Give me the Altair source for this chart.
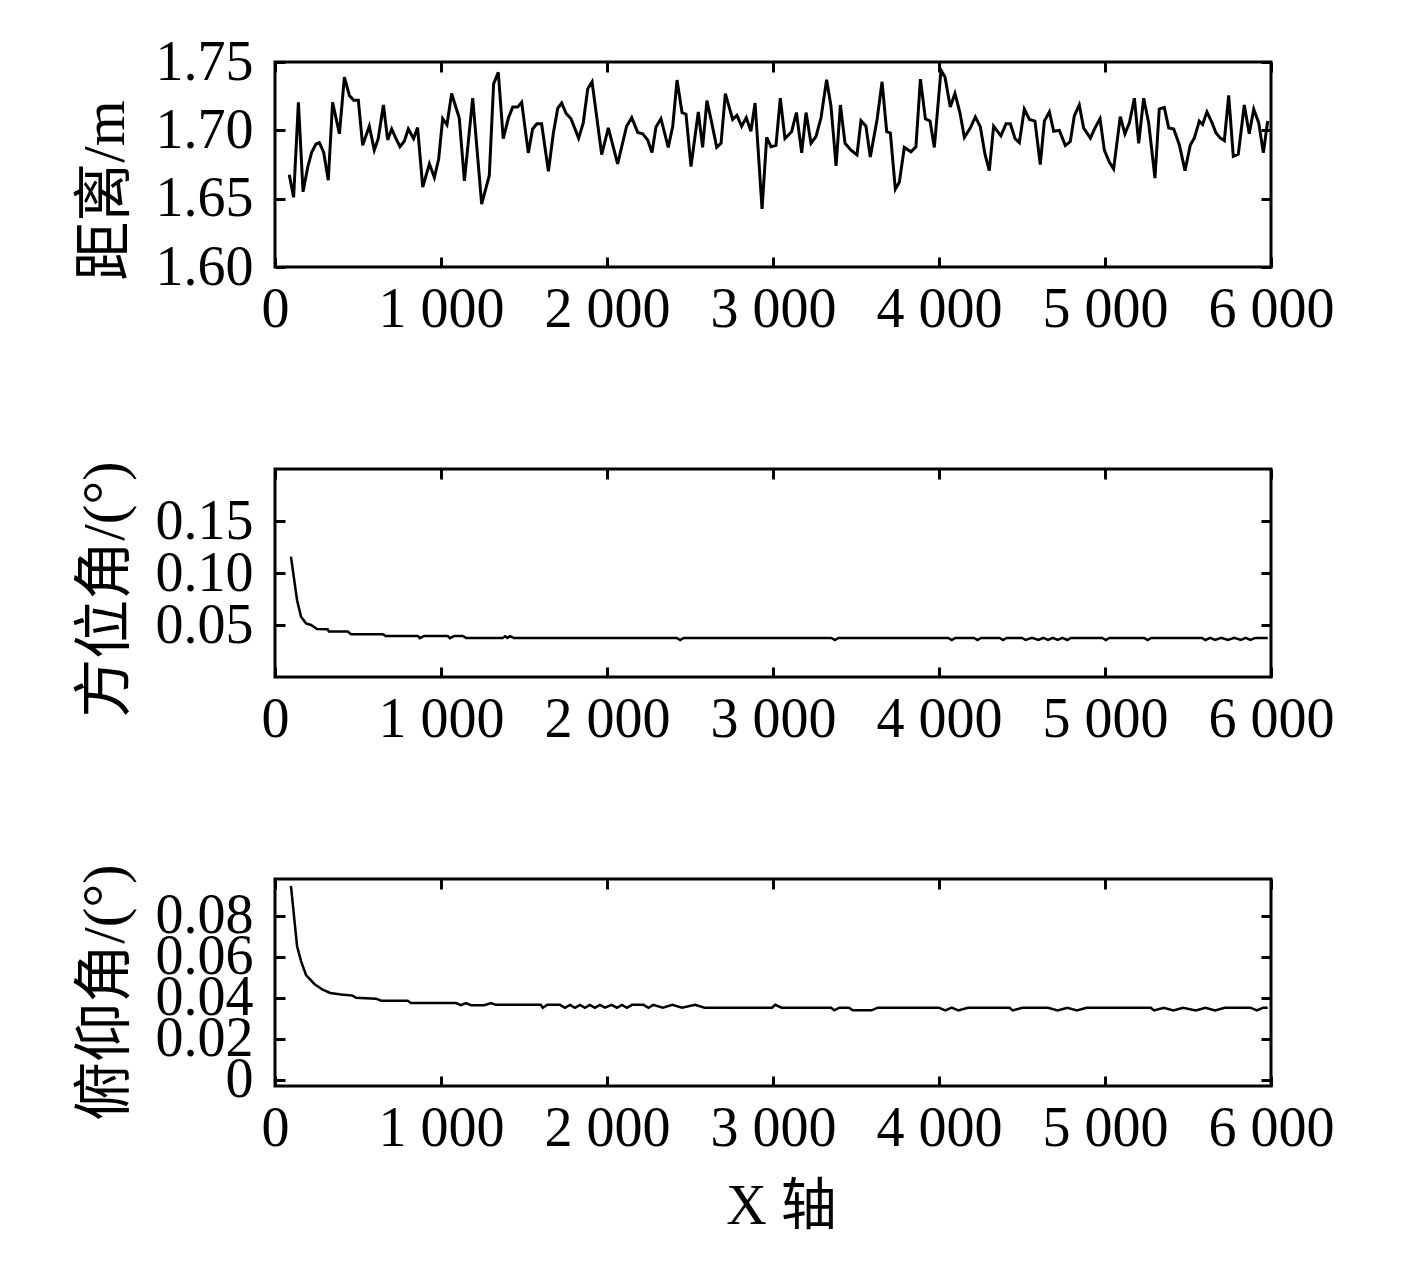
import altair as alt
import pandas as pd

# ---------------- data ----------------
x_ticks = [0, 1000, 2000, 3000, 4000, 5000, 6000]

dist_x = [86, 112, 141, 169, 197, 221, 247, 267, 293, 321, 347, 388, 418, 448, 474, 502, 528, 568, 598, 622,
          653, 679, 703, 729, 753, 779, 803, 835, 859, 890, 930, 960, 986, 1010, 1036, 1064, 1110, 1141, 1191, 1245,
          1291, 1317, 1345, 1375, 1406, 1432, 1462, 1486,
          1526, 1552, 1578, 1606, 1647, 1677, 1703, 1727, 1753, 1783, 1829, 1857, 1884, 1910, 1968, 2008, 2064, 2118,
          2149, 2185, 2215, 2245, 2271, 2295, 2325, 2369, 2396, 2422, 2452, 2476, 2506, 2550, 2576, 2602, 2631, 2661,
          2687, 2713, 2757, 2783, 2811, 2839, 2867, 2892, 2934, 2962, 2988,
          3018, 3044, 3072, 3112, 3141, 3173, 3199, 3229, 3259, 3289, 3323, 3349, 3380, 3406, 3434, 3470, 3506, 3530,
          3560, 3586, 3627, 3657, 3685, 3707, 3737, 3761, 3791, 3831, 3861, 3888, 3918, 3946, 3972, 4012, 4036, 4068,
          4096, 4126, 4153, 4189, 4219, 4249, 4277, 4303, 4329, 4373, 4404, 4430, 4458, 4484, 4514,
          4545, 4578, 4610, 4635, 4665, 4691, 4725, 4761, 4791, 4815, 4845, 4871, 4912, 4940, 4970, 4996, 5026, 5052,
          5092, 5120, 5147, 5177, 5203, 5233, 5263, 5301, 5327, 5357, 5384, 5414, 5448, 5482, 5514, 5538, 5568, 5588,
          5614, 5643, 5669, 5695, 5719, 5745, 5773, 5803, 5839, 5869, 5896, 5926, 5954, 5980]
dist_y = [1.6675, 1.651, 1.7205, 1.655, 1.673, 1.684, 1.690, 1.691, 1.684, 1.6635,
          1.7205, 1.6975, 1.739, 1.7255, 1.722, 1.722, 1.689, 1.703, 1.6855, 1.694,
          1.7185, 1.693, 1.701, 1.694, 1.688, 1.692, 1.701, 1.694, 1.702, 1.6585,
          1.6755, 1.6655, 1.679, 1.7085, 1.704, 1.727, 1.709, 1.663, 1.7235, 1.646,
          1.667, 1.734, 1.7425, 1.694, 1.709, 1.717, 1.717, 1.7205,
          1.6835, 1.701, 1.7048, 1.7048, 1.670, 1.698, 1.716, 1.720, 1.7125, 1.7085,
          1.6943, 1.7055, 1.7305, 1.7355, 1.6823, 1.7018, 1.6755, 1.703, 1.7093, 1.6985,
          1.6975, 1.693, 1.6838, 1.7025, 1.7085, 1.6875, 1.703, 1.7368, 1.713, 1.7118,
          1.6735, 1.7135, 1.6875, 1.7218, 1.7055, 1.6875, 1.6905, 1.7268, 1.708, 1.711,
          1.703, 1.7093, 1.6993, 1.720, 1.6425, 1.6948, 1.688,
          1.689, 1.7235, 1.694, 1.699, 1.713, 1.6835, 1.713, 1.6905, 1.6955, 1.709,
          1.737, 1.718, 1.674, 1.7185, 1.6905, 1.6855, 1.682, 1.707, 1.703, 1.6805,
          1.708, 1.7355, 1.699, 1.698, 1.657, 1.662, 1.6875, 1.6843, 1.688, 1.7375,
          1.7085, 1.7068, 1.6875, 1.744, 1.739, 1.717, 1.727, 1.713, 1.6948, 1.7018,
          1.7098, 1.7025, 1.6825, 1.6705, 1.703, 1.696, 1.7048, 1.7048, 1.694, 1.691,
          1.7155,
          1.708, 1.7068, 1.675, 1.7068, 1.7135, 1.6993, 1.700, 1.6888, 1.6918, 1.7105,
          1.7185, 1.7018, 1.6943, 1.7018, 1.7085, 1.6855, 1.6768, 1.6718, 1.710, 1.6975,
          1.7055, 1.7235, 1.6905, 1.7235, 1.7055, 1.665, 1.7155, 1.7168, 1.7018, 1.701,
          1.6893, 1.6705, 1.6893, 1.6943, 1.7068, 1.7043, 1.7135, 1.706, 1.698, 1.6943,
          1.6925, 1.7255, 1.681, 1.6825, 1.7185, 1.6975, 1.7155, 1.7055, 1.6835, 1.7068]

azi_x = [96, 133, 157, 187, 217, 253, 317, 325, 438, 458, 649, 667, 860, 873, 898, 1040, 1054, 1080, 1131, 1151,
         1372, 1386, 1400, 1416, 1438, 2420, 2441, 2462, 3352, 3373, 3394, 4056, 4077, 4098, 4211, 4232, 4253,
         4365, 4386, 4407, 4501, 4522, 4560, 4599, 4628, 4657, 4686, 4715, 4744, 4773, 4794, 4984, 5005, 5026,
         5236, 5257, 5278, 5584, 5605, 5634, 5663, 5700, 5740, 5779, 5818, 5847, 5876, 5905, 5980]
azi_y = [0.1157, 0.0738, 0.0580, 0.0516, 0.0500, 0.0462, 0.0459, 0.0437, 0.0437, 0.0411, 0.0411, 0.0395, 0.0395,
         0.0373, 0.0395, 0.0395, 0.0373, 0.0395, 0.0395, 0.0376,
         0.0376, 0.0392, 0.0376, 0.0392, 0.0376, 0.0376, 0.0356, 0.0376, 0.0376, 0.0356, 0.0376, 0.0376, 0.0356, 0.0376,
         0.0376, 0.0356, 0.0376, 0.0376, 0.0356, 0.0376, 0.0376, 0.0356, 0.0376, 0.0356, 0.0376, 0.0356, 0.0376,
         0.0356, 0.0376, 0.0356, 0.0376, 0.0376, 0.0356, 0.0376, 0.0376, 0.0356, 0.0376, 0.0376, 0.0356, 0.0376,
         0.0356, 0.0376, 0.0356, 0.0376, 0.0356, 0.0376, 0.0356, 0.0376, 0.0376]

pit_x = [96, 133, 157, 187, 237, 287, 333, 398, 468, 488, 608, 639, 799, 819, 1090, 1120, 1151, 1181, 1261, 1301,
         1331, 1601, 1613, 1640, 1717, 1747, 1777, 1807, 1837, 1867, 1897, 1927, 1957, 1988, 2027, 2060, 2090, 2120,
         2150, 2220, 2250, 2278, 2336, 2394, 2452, 2530, 2588, 2994, 3013, 3052, 3350, 3369, 3400, 3458, 3480, 3593,
         3632, 3999, 4038, 4077, 4116, 4174, 4425, 4444, 4502, 4657, 4715, 4773, 4831, 4889, 5276, 5296, 5354, 5412,
         5470, 5547, 5605, 5663, 5721, 5876, 5915, 5953, 5980]
pit_y = [0.0946, 0.0652, 0.0579, 0.0511, 0.0468, 0.0440, 0.0424, 0.0416, 0.0411, 0.0400, 0.0396, 0.0386, 0.0386,
         0.0375, 0.0375, 0.0364, 0.0375, 0.0364, 0.0364, 0.0375,
         0.0366, 0.0366, 0.0352, 0.0366, 0.0366, 0.0352, 0.0366, 0.0352, 0.0366, 0.0352, 0.0366, 0.0352, 0.0366, 0.0352,
         0.0366, 0.0352, 0.0366, 0.0352, 0.0366, 0.0366, 0.0352, 0.0366, 0.0352, 0.0366, 0.0352, 0.0366, 0.0352,
         0.0352, 0.0366, 0.0352, 0.0352, 0.0339, 0.0352, 0.0352, 0.0339, 0.0339, 0.0352, 0.0352, 0.0339, 0.0352,
         0.0339, 0.0352, 0.0352, 0.0339, 0.0352, 0.0352, 0.0339, 0.0352, 0.0339, 0.0352, 0.0352, 0.0339, 0.0352,
         0.0339, 0.0352, 0.0339, 0.0352, 0.0339, 0.0352, 0.0352, 0.0339, 0.0352, 0.0352]

# ---------------- styling ----------------
FONT = "Liberation Serif, Noto Sans CJK SC"
LABEL_SIZE = 56
YTITLE_SIZE = 59
XTITLE_SIZE = 56
INWARD = {"expr": "-10"}
W = 996


def panel(xs, ys, ydomain, yticks, ylabel_expr, ytitle, height, title_y, stroke, xtitle=None):
    df = pd.DataFrame({"x": xs, "y": ys})
    xscale = alt.Scale(domain=[0, 6000], nice=False, zero=False)
    yscale = alt.Scale(domain=ydomain, nice=False, zero=False)
    tick_style = dict(tickSize=INWARD, tickWidth=3, tickColor="black", domain=False, grid=False)
    label_style = dict(labelFont=FONT, labelFontSize=LABEL_SIZE, labelColor="black",
                       labelOverlap=False, labelFlush=False, labelBound=False)
    xb_kwargs = dict(orient="bottom", values=x_ticks,
                     labelExpr="replace(format(datum.value, ','), ',', ' ')",
                     labelPadding=25, **tick_style, **label_style)
    if xtitle:
        xb_kwargs.update(title=xtitle, titleFont=FONT, titleFontSize=XTITLE_SIZE,
                         titleFontWeight="normal", titleColor="black", titleX=506, titleY=120,
                         titleBaseline="middle", titleAlign="center")
    else:
        xb_kwargs.update(title=None)
    xb = alt.Axis(**xb_kwargs)
    yl = alt.Axis(orient="left", values=yticks, labelExpr=ylabel_expr, labelPadding=32,
                  title=ytitle, titleFont=FONT, titleFontSize=YTITLE_SIZE, titleFontWeight="normal",
                  titleColor="black", titleAngle=270, titleX=-140, titleY=title_y,
                  titleAlign="center", titleBaseline="bottom",
                  **tick_style, **label_style)
    xt = alt.Axis(orient="top", values=x_ticks, labels=False, title=None, **tick_style)
    yr = alt.Axis(orient="right", values=yticks, labels=False, title=None, **tick_style)

    line = alt.Chart(df).mark_line(color="black", strokeWidth=stroke).encode(
        x=alt.X("x:Q", scale=xscale, axis=xb),
        y=alt.Y("y:Q", scale=yscale, axis=yl),
    )
    mirror = alt.Chart(df).mark_line(opacity=0).encode(
        x=alt.X("x:Q", scale=xscale, axis=xt),
        y=alt.Y("y:Q", scale=yscale, axis=yr),
    )
    return alt.layer(line, mirror).resolve_axis(x="independent", y="independent").properties(
        width=W, height=height)


p1 = panel(dist_x, dist_y, [1.60, 1.75], [1.60, 1.65, 1.70, 1.75],
           "format(datum.value, '.2f')", "距离/m", 205, 128, 3)
p2 = panel(azi_x, azi_y, [0, 0.2], [0.05, 0.10, 0.15],
           "format(datum.value, '.2f')", "方位角/(°)", 208, 120, 2.5)
p3 = panel(pit_x, pit_y, [-0.003, 0.098], [0, 0.02, 0.04, 0.06, 0.08],
           "datum.value == 0 ? '0' : format(datum.value, '.2f')", "俯仰角/(°)", 207, 113, 2.5,
           xtitle="X 轴")

chart = alt.vconcat(p1, p2, p3, spacing=202, bounds="flush").configure_view(
    stroke="black", strokeWidth=3
).properties(padding={"left": 66, "top": 24, "right": 5, "bottom": 5})

chart.save("out.html", embed_options={"renderer": "svg", "actions": False})
